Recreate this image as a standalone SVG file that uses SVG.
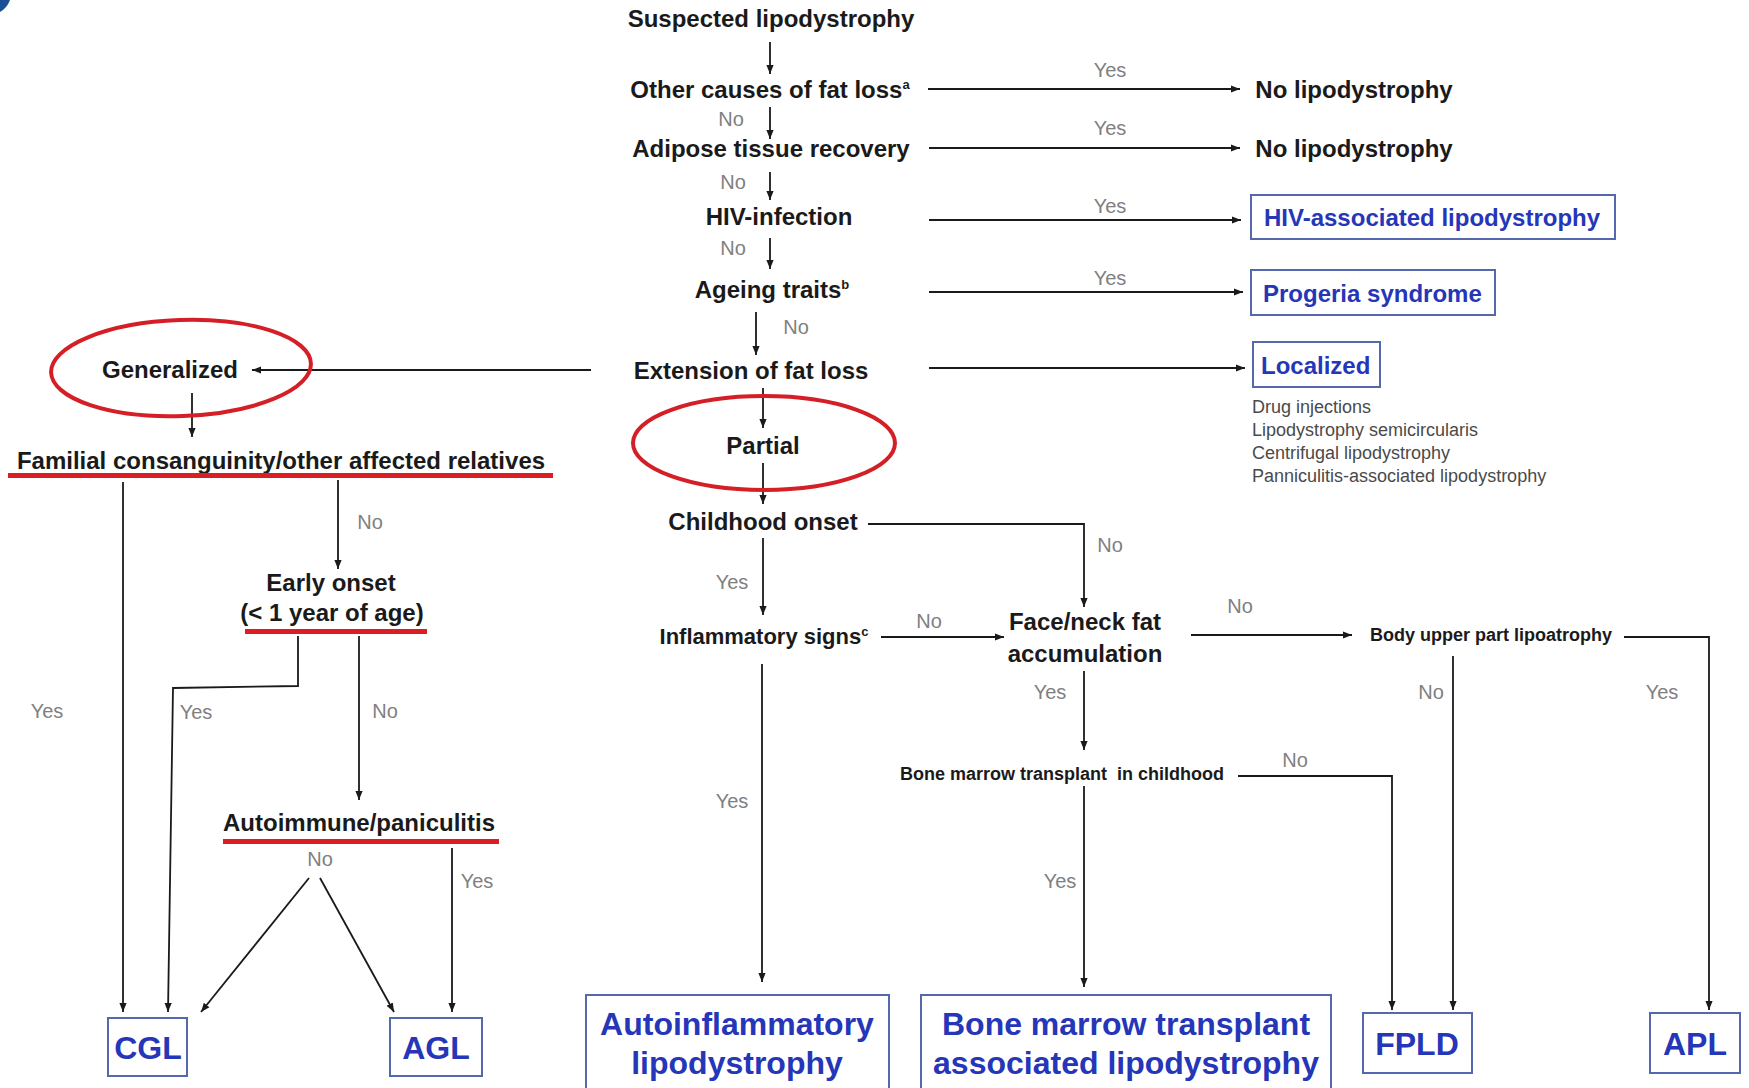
<svg xmlns="http://www.w3.org/2000/svg" width="1749" height="1088" viewBox="0 0 1749 1088">
<defs>
<marker id="ah" viewBox="0 0 10 10" refX="10" refY="5" markerWidth="9" markerHeight="9" orient="auto" markerUnits="userSpaceOnUse">
<path d="M0,1 L10,5 L0,9 Z" fill="#1a1a1a"/>
</marker>
<style>
.t{font-family:"Liberation Sans",Arial,sans-serif;font-weight:bold;font-size:24px;fill:#1a1a1a;text-anchor:middle}
.ts{font-family:"Liberation Sans",Arial,sans-serif;font-weight:bold;font-size:18px;fill:#1a1a1a;text-anchor:middle;white-space:pre}
.l{font-family:"Liberation Sans",Arial,sans-serif;font-size:20px;fill:#808080;text-anchor:middle}
.b{font-family:"Liberation Sans",Arial,sans-serif;font-weight:bold;font-size:24px;fill:#2536b8}
.bb{font-family:"Liberation Sans",Arial,sans-serif;font-weight:bold;font-size:32px;fill:#2536b8;text-anchor:middle}
.box{fill:#fff;stroke:#5668ad;stroke-width:2}
.ov{fill:none;stroke:#d41f26;stroke-width:4}
.ul{fill:#dc1d24}
.sub{font-family:"Liberation Sans",Arial,sans-serif;font-size:18px;fill:#4a4a4a}
.sup{font-size:13px}
.c path,.c line,.c polyline{fill:none;stroke:#1a1a1a;stroke-width:1.8}
</style>
</defs>
<rect width="1749" height="1088" fill="#fff"/>
<path d="M0,0 H10 Q7,8 0,12 Z" fill="#1b4f96"/>

<g id="connectors" class="c">
<line x1="770" y1="42" x2="770" y2="74" marker-end="url(#ah)"/>
<line x1="770" y1="107" x2="770" y2="139" marker-end="url(#ah)"/>
<line x1="770" y1="172" x2="770" y2="200" marker-end="url(#ah)"/>
<line x1="770" y1="238" x2="770" y2="269" marker-end="url(#ah)"/>
<line x1="756" y1="312" x2="756" y2="355" marker-end="url(#ah)"/>
<line x1="928" y1="89" x2="1240" y2="89" marker-end="url(#ah)"/>
<line x1="929" y1="148" x2="1240" y2="148" marker-end="url(#ah)"/>
<line x1="929" y1="220" x2="1241" y2="220" marker-end="url(#ah)"/>
<line x1="929" y1="292" x2="1243" y2="292" marker-end="url(#ah)"/>
<line x1="929" y1="368" x2="1245" y2="368" marker-end="url(#ah)"/>
<line x1="591" y1="370" x2="252" y2="370" marker-end="url(#ah)"/>
<line x1="763" y1="388" x2="763" y2="428" marker-end="url(#ah)"/>
<line x1="763" y1="463" x2="763" y2="504" marker-end="url(#ah)"/>
<line x1="192" y1="393" x2="192" y2="437" marker-end="url(#ah)"/>
<polyline points="868,524 1084,524 1084,607" marker-end="url(#ah)"/>
<line x1="763" y1="538" x2="763" y2="615" marker-end="url(#ah)"/>
<line x1="881" y1="637" x2="1004" y2="637" marker-end="url(#ah)"/>
<line x1="1191" y1="635" x2="1352" y2="635" marker-end="url(#ah)"/>
<polyline points="1624,637 1709,637 1709,1010" marker-end="url(#ah)"/>
<line x1="1453" y1="656" x2="1453" y2="1010" marker-end="url(#ah)"/>
<line x1="1084" y1="671" x2="1084" y2="750" marker-end="url(#ah)"/>
<polyline points="1238,776 1392,776 1392,1010" marker-end="url(#ah)"/>
<line x1="1084" y1="786" x2="1084" y2="987" marker-end="url(#ah)"/>
<line x1="762" y1="664" x2="762" y2="982" marker-end="url(#ah)"/>
<line x1="123" y1="482" x2="123" y2="1012" marker-end="url(#ah)"/>
<line x1="338" y1="480" x2="338" y2="569" marker-end="url(#ah)"/>
<polyline points="298,636 298,686 173,688 168,1012" marker-end="url(#ah)"/>
<line x1="359" y1="636" x2="359" y2="800" marker-end="url(#ah)"/>
<line x1="309" y1="878" x2="201" y2="1012" marker-end="url(#ah)"/>
<line x1="320" y1="878" x2="394" y2="1012" marker-end="url(#ah)"/>
<line x1="452" y1="848" x2="452" y2="1012" marker-end="url(#ah)"/>
</g>

<g id="edge-labels">
<text class="l" x="1110" y="77">Yes</text>
<text class="l" x="1110" y="135">Yes</text>
<text class="l" x="1110" y="213">Yes</text>
<text class="l" x="1110" y="285">Yes</text>
<text class="l" x="731" y="126">No</text>
<text class="l" x="733" y="189">No</text>
<text class="l" x="733" y="255">No</text>
<text class="l" x="796" y="334">No</text>
<text class="l" x="1110" y="552">No</text>
<text class="l" x="732" y="589">Yes</text>
<text class="l" x="929" y="628">No</text>
<text class="l" x="1240" y="613">No</text>
<text class="l" x="1050" y="699">Yes</text>
<text class="l" x="1431" y="699">No</text>
<text class="l" x="1662" y="699">Yes</text>
<text class="l" x="1295" y="767">No</text>
<text class="l" x="1060" y="888">Yes</text>
<text class="l" x="732" y="808">Yes</text>
<text class="l" x="370" y="529">No</text>
<text class="l" x="47" y="718">Yes</text>
<text class="l" x="196" y="719">Yes</text>
<text class="l" x="385" y="718">No</text>
<text class="l" x="320" y="866">No</text>
<text class="l" x="477" y="888">Yes</text>
</g>

<g id="n-suspected"><text class="t" x="771" y="27">Suspected lipodystrophy</text></g>
<g id="n-other"><text class="t" x="770" y="98">Other causes of fat loss<tspan class="sup" dy="-9">a</tspan></text></g>
<g id="n-nolipo1"><text class="t" x="1354" y="98">No lipodystrophy</text></g>
<g id="n-adipose"><text class="t" x="771" y="157">Adipose tissue recovery</text></g>
<g id="n-nolipo2"><text class="t" x="1354" y="157">No lipodystrophy</text></g>
<g id="n-hiv"><text class="t" x="779" y="225">HIV-infection</text></g>
<g id="n-hivlipo"><rect class="box" x="1251" y="195" width="364" height="44"/><text class="b" x="1264" y="226">HIV-associated lipodystrophy</text></g>
<g id="n-ageing"><text class="t" x="772" y="298">Ageing traits<tspan class="sup" dy="-9">b</tspan></text></g>
<g id="n-progeria"><rect class="box" x="1251" y="270" width="244" height="45"/><text class="b" x="1263" y="302">Progeria syndrome</text></g>
<g id="n-extension"><text class="t" x="751" y="379">Extension of fat loss</text></g>
<g id="n-localized"><rect class="box" x="1253" y="342" width="127" height="45"/><text class="b" x="1261" y="374">Localized</text>
<text class="sub" x="1252" y="413">Drug injections</text>
<text class="sub" x="1252" y="436">Lipodystrophy semicircularis</text>
<text class="sub" x="1252" y="459">Centrifugal lipodystrophy</text>
<text class="sub" x="1252" y="482">Panniculitis-associated lipodystrophy</text></g>
<g id="n-generalized"><ellipse class="ov" cx="181" cy="368" rx="130" ry="48" transform="rotate(-2 181 368)"/><text class="t" x="170" y="378">Generalized</text></g>
<g id="n-partial"><ellipse class="ov" cx="764" cy="443" rx="131" ry="47"/><text class="t" x="763" y="454">Partial</text></g>
<g id="n-familial"><text class="t" x="281" y="469">Familial consanguinity/other affected relatives</text><rect class="ul" x="8" y="473" width="545" height="5"/></g>
<g id="n-early"><text class="t" x="331" y="591">Early onset</text><text class="t" x="332" y="621">(&lt; 1 year of age)</text><rect class="ul" x="245" y="629" width="182" height="5"/></g>
<g id="n-autoimmune"><text class="t" x="359" y="831">Autoimmune/paniculitis</text><rect class="ul" x="223" y="839" width="276" height="5"/></g>
<g id="n-childhood"><text class="t" x="763" y="530">Childhood onset</text></g>
<g id="n-inflammatory"><text class="t" x="764" y="644" style="font-size:22px">Inflammatory signs<tspan class="sup" dy="-8">c</tspan></text></g>
<g id="n-faceneck"><text class="t" x="1085" y="630">Face/neck fat</text><text class="t" x="1085" y="662">accumulation</text></g>
<g id="n-bodyupper"><text class="ts" x="1491" y="641">Body upper part lipoatrophy</text></g>
<g id="n-bmtchild"><text class="ts" x="1062" y="780">Bone marrow transplant  in childhood</text></g>
<g id="n-cgl"><rect class="box" x="108" y="1018" width="79" height="58"/><text class="bb" x="148" y="1059">CGL</text></g>
<g id="n-agl"><rect class="box" x="390" y="1018" width="92" height="58"/><text class="bb" x="436" y="1059">AGL</text></g>
<g id="n-autoinfl"><rect class="box" x="586" y="995" width="303" height="100"/><text class="bb" x="737" y="1035">Autoinflammatory</text><text class="bb" x="737" y="1074">lipodystrophy</text></g>
<g id="n-bmt"><rect class="box" x="921" y="995" width="410" height="100"/><text class="bb" x="1126" y="1035">Bone marrow transplant</text><text class="bb" x="1126" y="1074">associated lipodystrophy</text></g>
<g id="n-fpld"><rect class="box" x="1363" y="1013" width="109" height="60"/><text class="bb" x="1417" y="1055">FPLD</text></g>
<g id="n-apl"><rect class="box" x="1650" y="1013" width="90" height="60"/><text class="bb" x="1695" y="1055">APL</text></g>
</svg>
